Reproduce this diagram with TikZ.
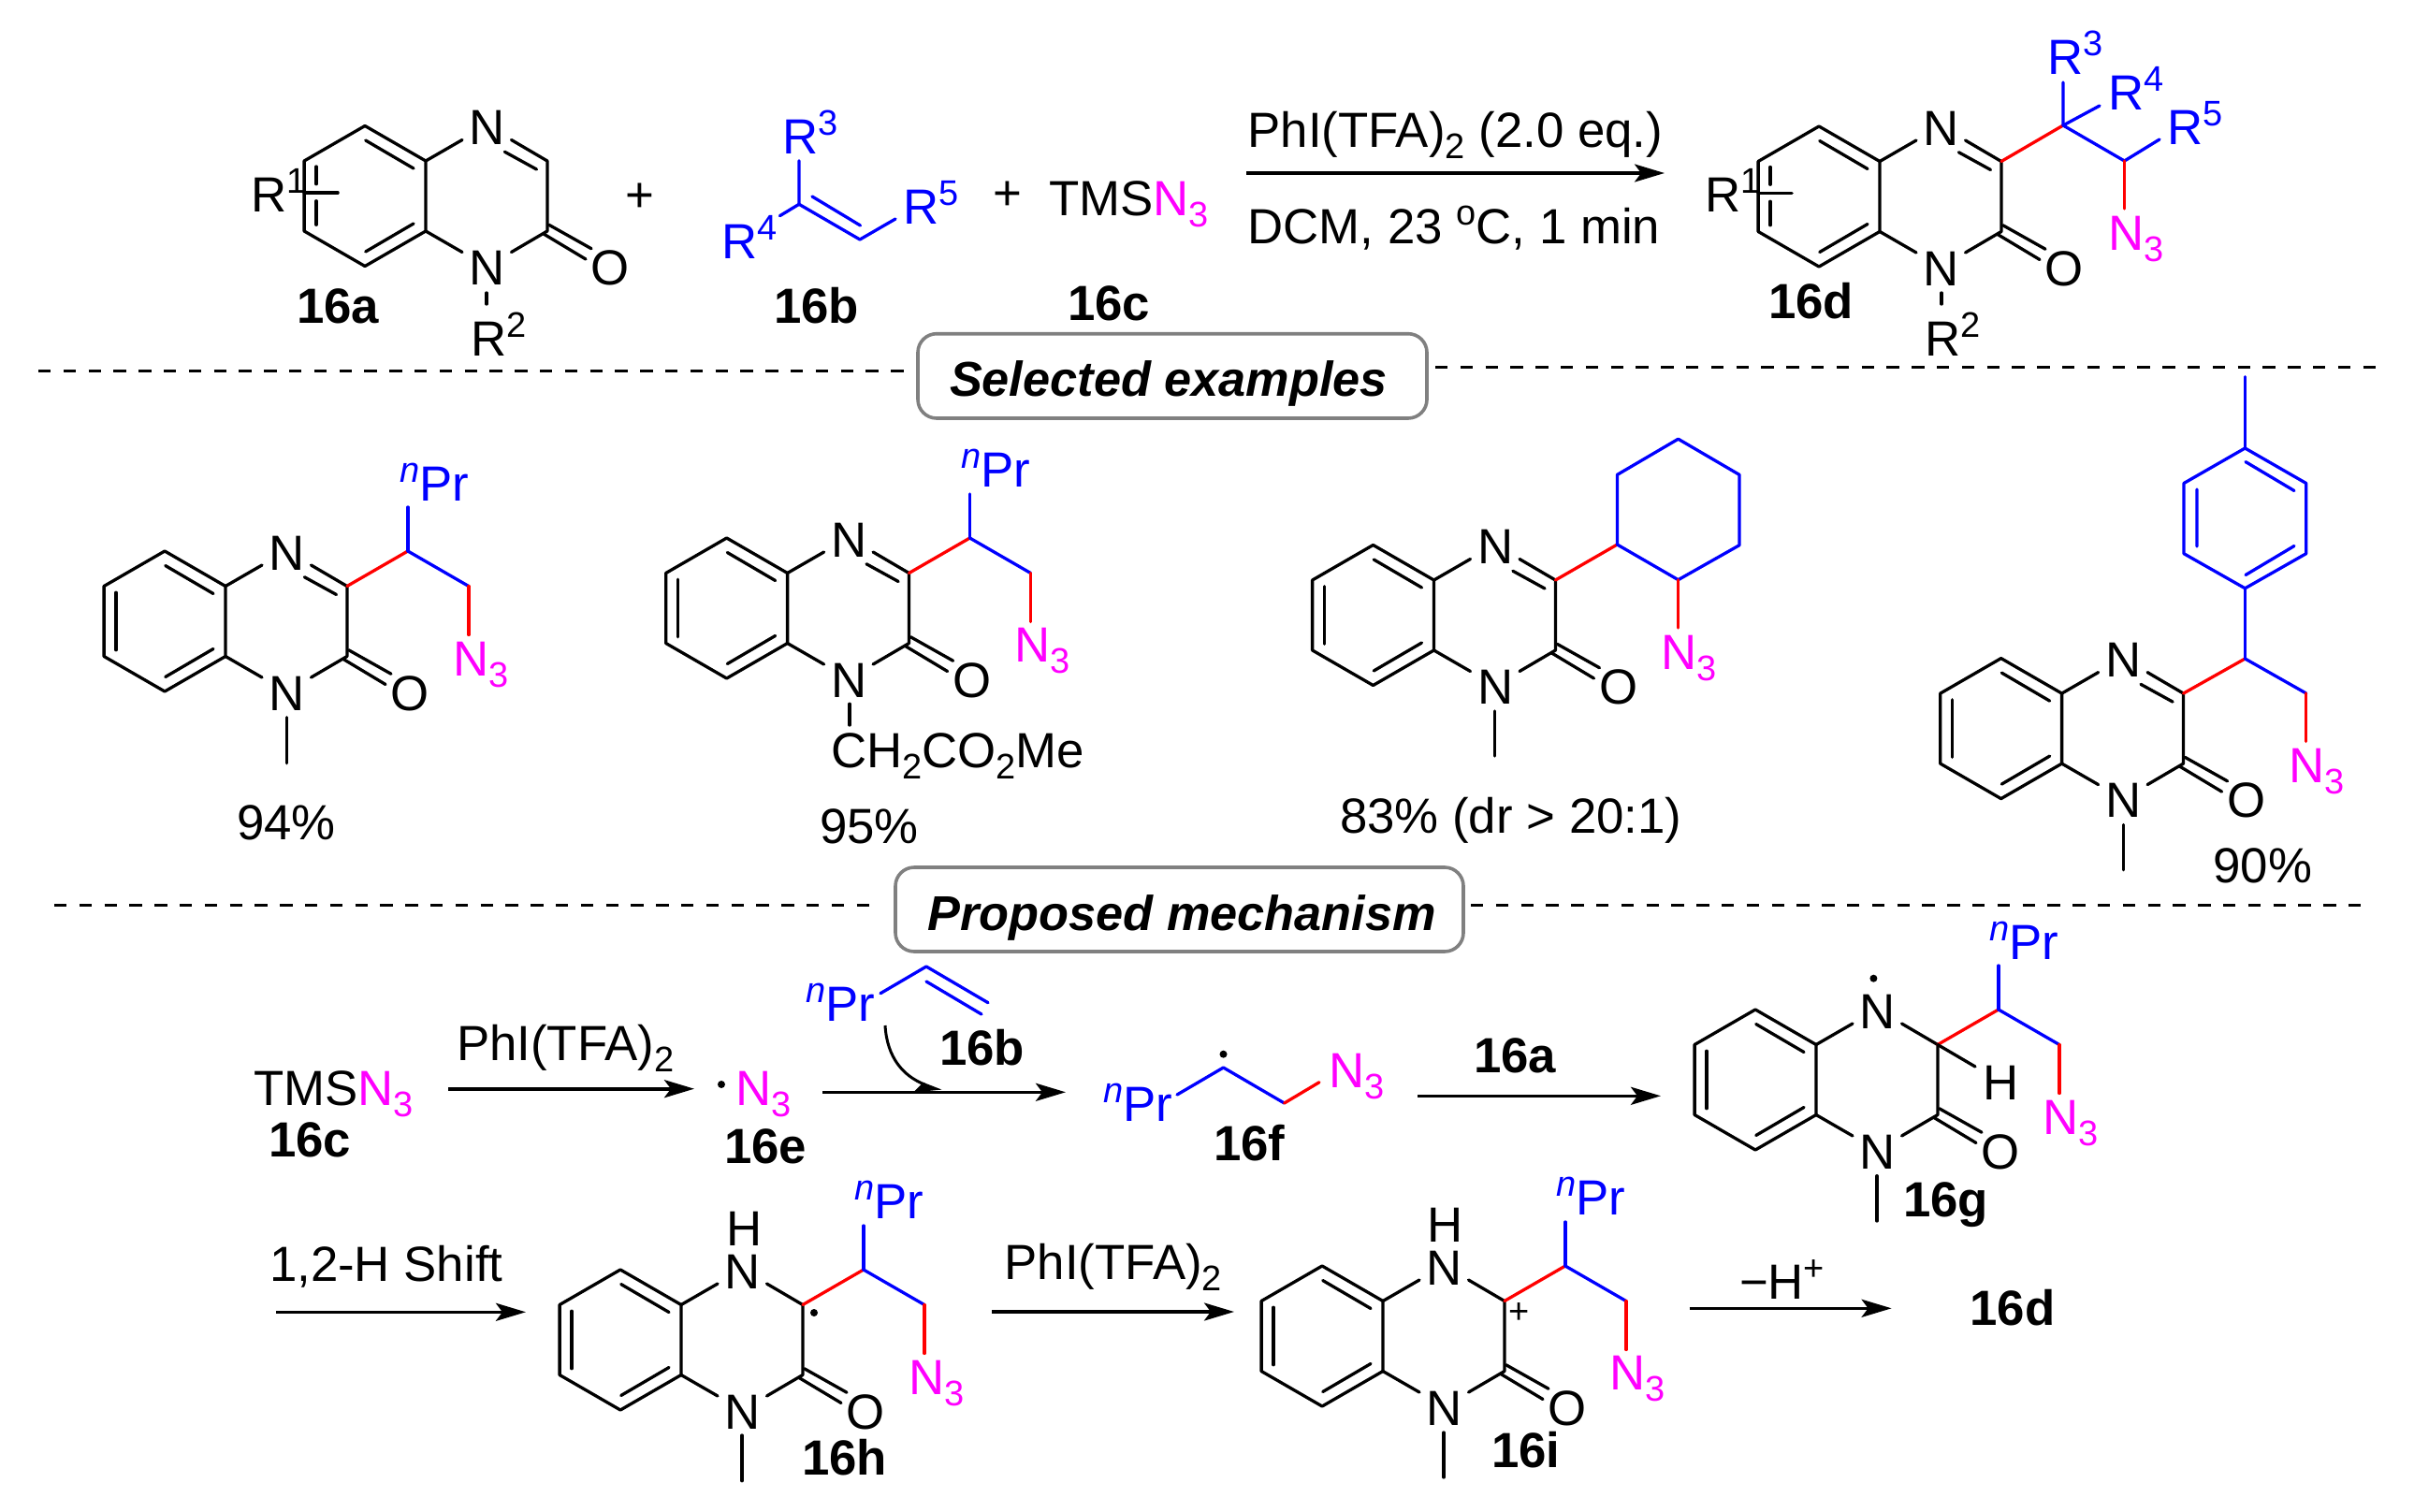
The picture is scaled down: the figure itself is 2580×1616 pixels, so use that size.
\documentclass[tikz,border=0pt]{standalone}
\usepackage{fontspec}
\setmainfont{Liberation Sans}
\usetikzlibrary{arrows.meta}
\definecolor{chemblue}{RGB}{0,0,255}
\definecolor{chemred}{RGB}{255,0,0}
\definecolor{chemmag}{RGB}{255,0,255}
\definecolor{boxgray}{RGB}{128,128,128}
\newcommand\Sp[1]{\raisebox{20pt}{\fontsize{38}{40}\selectfont #1}}
\newcommand\Sb[1]{\raisebox{-12pt}{\fontsize{38}{40}\selectfont #1}}
\newcommand\NT{\textcolor{chemmag}{N\Sb{3}}}
\newcommand\NPr{\textcolor{chemblue}{\Sp{\itshape n}Pr}}
\tikzset{
  bond/.style={line width=3.3pt,black,line cap=round,line join=round},
  blueb/.style={bond,chemblue},
  redb/.style={bond,chemred},
  arr/.style={line width=3.6pt,-{Stealth[length=32pt,width=19pt,inset=7pt]}},
  lbl/.style={font=\fontsize{52.8}{60}\selectfont,inner sep=0pt,outer sep=0pt,anchor=base west,xshift=-3pt},
  cmpd/.style={lbl,font=\fontsize{52.8}{60}\selectfont\bfseries},
  atom/.style={font=\fontsize{52.8}{60}\selectfont,inner sep=0pt,outer sep=0pt,anchor=center,yshift=-2pt,xshift=1pt},
  title/.style={lbl,font=\fontsize{52.3}{60}\selectfont\bfseries\itshape},
  panel/.style={draw=boxgray,line width=3.6pt,rounded corners=20pt,fill=white},
  sep/.style={line width=3pt,dash pattern=on 13.4pt off 13.4pt},
  dot/.style={circle,fill=black,inner sep=0pt,minimum size=8pt},
}
% left inner bond of the benzene ring
\newcommand\QLeft{\draw[bond] (-1.559,-.41)--(-1.559,.41);}
\newcommand\QLeftR{\draw[bond] (-1.559,-.42)--(-1.559,-.17) (-1.559,.07)--(-1.559,.41);
  \draw[bond] (-1.732,-.047)--(-1.252,-.047);}
% quinoxalinone skeleton: #2 prefix, (#3,#4) centre of fused bond
\newcommand\Quin[4][\QLeft]{%
\begin{scope}[shift={(#3,#4)},x=75pt,y=-75pt]
  \draw[bond] (0,-.5)--(-.866,-1)--(-1.732,-.5)--(-1.732,.5)--(-.866,1)--(0,.5)--cycle;
  \draw[bond] (-.857,-.793)--(-.173,-.393) (-.857,.793)--(-.173,.393);
  #1
  \draw[bond] (0,-.5)--(.52,-.8) (0,.5)--(.52,.8);
  \draw[bond] (1.22,-.8)--(1.732,-.5)--(1.732,.5)--(1.22,.8);
  \draw[bond] (1.755,.41)--(2.36,.75) (1.68,.54)--(2.28,.9);
  \coordinate (#2c3) at (1.732,-.5);
  \node[atom] (#2Nt) at (.866,-1) {N};
  \node[atom] (#2Nb) at (.866,1) {N};
  \node[atom] (#2O) at (2.62,1) {O};
\end{scope}}
% C=N second line
\newcommand\Imine[2]{\begin{scope}[shift={(#1,#2)},x=75pt,y=-75pt]
  \draw[bond] (1.125,-.63)--(1.58,-.38);\end{scope}}
% side chain: red bond, blue fork, red bond to azide
\newcommand\Chain[1]{%
  \draw[redb] (#1c3) -- ++(65,-37.5) coordinate (#1Ca);
  \draw[blueb] (#1Ca) -- ++(65,37.5) coordinate (#1Cb);
  \draw[blueb] (#1Ca) -- ++(0,-47);
  \draw[redb] (#1Cb) -- ++(0,52);}
\begin{document}
\begin{tikzpicture}[x=1pt,y=-1pt]
\path[use as bounding box,fill=white] (0,0) rectangle (2580,1616);

% ---------- top equation
\Quin[\QLeftR]{a}{455}{209.5}\Imine{455}{209.5}
\node[lbl] (aR1) at (271,226.7) {R\Sp{1}};
\draw[bond] (520,313)--(520,325);
\node[lbl] (aR2) at (506,380) {R\Sp{2}};
\node[cmpd] (l16a) at (320,345.5) {16a};
\node[lbl] (plus1) at (671,226) {+};

\draw[blueb] (854,171.7)--(854,218.3)--(919,256);
\draw[blueb] (868,210)--(919.5,241);
\draw[blueb] (854,218.3)--(833.4,230.7);
\draw[blueb] (919,256)--(957,234);
\node[lbl,text=chemblue] (bR3) at (839,164.3) {R\Sp{3}};
\node[lbl,text=chemblue] (bR4) at (774,276.7) {R\Sp{4}};
\node[lbl,text=chemblue] (bR5) at (968,239.3) {R\Sp{5}};
\node[cmpd] (l16b) at (830,345.5) {16b};
\node[lbl] (plus2) at (1064,225) {+};
\node[lbl] (tms1) at (1124,230) {TMS\NT};
\node[cmpd] (l16c) at (1144,342) {16c};

\coordinate (a0s) at (1332,185); \coordinate (a0e) at (1779,185);
\draw[arr] (a0s)--(a0e);
\node[lbl] (r0a) at (1336.5,157.3) {PhI(TFA)\Sb{2} (2.0 eq.)};
\node[lbl] (r0b) at (1336.5,260) {DCM, 23 \Sp{o}C, 1 min};

\Quin[\QLeftR]{d}{2009}{210}\Imine{2009}{210}
\node[lbl] (dR1) at (1825,226.7) {R\Sp{1}};
\draw[bond] (2075,313)--(2075,325);
\node[lbl] (dR2) at (2060,380) {R\Sp{2}};
\node[cmpd] (l16d) at (1893,340) {16d};
\draw[redb] (dc3)--(2205,134);
\draw[blueb] (2205,88)--(2205,134)--(2270.5,172)--(2308,149);
\draw[blueb] (2205,134)--(2244,113);
\draw[redb] (2270.5,172)--(2270.5,223);
\node[lbl,text=chemblue] (dR3) at (2191,80) {R\Sp{3}};
\node[lbl,text=chemblue] (dR4) at (2256,118) {R\Sp{4}};
\node[lbl,text=chemblue] (dR5) at (2319,155) {R\Sp{5}};
\node[lbl] (dN3) at (2256,267) {\NT};

% ---------- separators and panels
\coordinate (s1a) at (41,396); \coordinate (s1b) at (969,396);
\coordinate (s2a) at (1534,392); \coordinate (s2b) at (2547,392);
\coordinate (s3a) at (58,967); \coordinate (s3b) at (940,967);
\coordinate (s4a) at (1572,967); \coordinate (s4b) at (2525,967);
\draw[sep] (s1a)--(s1b); \draw[sep] (s2a)--(s2b);
\draw[sep] (s3a)--(s3b); \draw[sep] (s4a)--(s4b);
\draw[panel] (981,356.7) rectangle (1525,447);
\node[title] (t1) at (1018,423.5) {Selected examples};
\draw[panel] (957,927) rectangle (1564,1017);
\node[title] (t2) at (994.6,994.5) {Proposed mechanism};

% ---------- example 1
\Quin{e}{241}{664}\Imine{241}{664}\Chain{e}
\draw[bond] (306.5,766.7)--(306.5,815.7);
\node[lbl] (ePr) at (430,535.7) {\NPr};
\node[lbl] (eN3) at (487,722.7) {\NT};
\node[lbl] (ey) at (256,897) {94\%};

% ---------- example 2
\Quin{f}{841.6}{650}\Imine{841.6}{650}\Chain{f}
\draw[bond] (908,752.3)--(908,775);
\node[lbl] (fPr) at (1030,520.7) {\NPr};
\node[lbl] (fN3) at (1087,707.3) {\NT};
\node[lbl] (fsub) at (891,820) {CH\Sb{2}CO\Sb{2}Me};
\node[lbl] (fy) at (879,901.7) {95\%};

% ---------- example 3
\Quin{g}{1532.5}{657.5}\Imine{1532.5}{657.5}
\draw[redb] (gc3)--(1728.4,582);
\draw[blueb] (1728.4,582)--(1793.6,619.7)--(1859,582.7)--(1859,507.4)--(1793.6,469.2)--(1728.4,507.4)--cycle;
\draw[redb] (1793.6,619.7)--(1793.6,671);
\draw[bond] (1597.8,760)--(1597.8,808);
\node[lbl] (gN3) at (1778,715) {\NT};
\node[lbl] (gy) at (1435,890) {83\% (dr > 20:1)};

% ---------- example 4
\Quin{h}{2203.6}{778.6}\Imine{2203.6}{778.6}
\draw[redb] (hc3)--(2399.4,704);
\draw[blueb] (2399.4,704)--(2464.7,741);
\draw[redb] (2464.7,741)--(2464.7,792.4);
\draw[blueb] (2399.4,704)--(2399.4,628.8);
\draw[blueb] (2399.4,628.8)--(2464.7,591.7)--(2464.7,516.5)--(2399.4,479)--(2334,516.5)--(2334,591.7)--cycle;
\draw[blueb] (2399.4,479)--(2399.4,402.7);
\draw[blueb] (2400,493.6)--(2452,524.5) (2400,614.5)--(2452,583.5) (2348,523)--(2348,584);
\draw[bond] (2269.6,881.5)--(2269.6,929.8);
\node[lbl] (hN3) at (2449.3,836.4) {\NT};
\node[lbl] (hy) at (2368.6,943.6) {90\%};

% ---------- mechanism row 1
\node[lbl] (m1) at (274,1181.7) {TMS\NT};
\node[cmpd] (m1c) at (290,1236) {16c};
\coordinate (a1s) at (479,1163.7); \coordinate (a1e) at (742,1163.7);
\draw[arr] (a1s)--(a1e);
\node[lbl] (a1t) at (491,1133) {PhI(TFA)\Sb{2}};
\node[dot] (d16e) at (771,1159) {};
\node[lbl] (m2) at (789,1181) {\NT};
\node[cmpd] (m2c) at (777,1243) {16e};
\coordinate (a2s) at (879,1167.3); \coordinate (a2e) at (1139,1167.3);
\draw[arr] (a2s)--(a2e);
\node[lbl] (mPr) at (864,1091.7) {\NPr};
\draw[blueb] (941,1061.7)--(990,1033)--(1056,1071.7);
\draw[blueb] (990,1049)--(1049,1084);
\node[cmpd] (mb) at (1007,1138) {16b};
\coordinate (c1s) at (946,1096); \coordinate (c1e) at (1006,1166);
\draw[line width=3pt,-{Stealth[length=24pt,width=24pt,inset=5pt,harpoon,swap]}] (c1s) .. controls (948,1130) and (965,1150) .. (c1e);

\node[lbl] (fPr2) at (1182,1198) {\NPr};
\draw[blueb] (1258,1170)--(1307.5,1141)--(1372.6,1179);
\draw[redb] (1372.6,1179)--(1410,1156.7);
\node[dot] (d16f) at (1307.5,1126.7) {};
\node[lbl] (fN) at (1423,1162.3) {\NT};
\node[cmpd] (m3c) at (1300,1240) {16f};
\coordinate (a3s) at (1515,1171.3); \coordinate (a3e) at (1775,1171.3);
\draw[arr] (a3s)--(a3e);
\node[cmpd] (a3t) at (1578,1146) {16a};

% 16g
\Quin{i}{1941}{1154}\Chain{i}
\draw[bond] (ic3)--(2111,1140);
\node[lbl] (iH) at (2122,1175) {H};
\node[dot] (d16g) at (2002.4,1045.7) {};
\draw[bond] (2006,1256.7)--(2006,1305);
\node[lbl] (iPr) at (2129,1025) {\NPr};
\node[lbl] (iN3) at (2186,1212) {\NT};
\node[cmpd] (ic) at (2037,1300) {16g};

% ---------- mechanism row 2
\coordinate (a4s) at (295,1402.3); \coordinate (a4e) at (562,1402.3);
\draw[arr] (a4s)--(a4e);
\node[lbl] (a4t) at (291,1369.5) {1,2-H Shift};

% 16h
\Quin{j}{728}{1432}\Chain{j}
\node[lbl] (jH) at (779.6,1331) {H};
\node[dot] (d16h) at (870,1403) {};
\draw[bond] (793,1534)--(793,1582.7);
\node[lbl] (jPr) at (916,1302.7) {\NPr};
\node[lbl] (jN3) at (974,1490) {\NT};
\node[cmpd] (jc) at (860,1576) {16h};

\coordinate (a5s) at (1060,1402); \coordinate (a5e) at (1319,1402);
\draw[arr] (a5s)--(a5e);
\node[lbl] (a5t) at (1076.6,1367.7) {PhI(TFA)\Sb{2}};

% 16i
\Quin{k}{1478}{1428}\Chain{k}
\node[lbl] (kH) at (1528,1327) {H};
\node[font=\fontsize{38}{40}\selectfont,inner sep=0pt] (kplus) at (1624,1404) {+};
\draw[bond] (1543,1531)--(1543,1579);
\node[lbl] (kPr) at (1666,1298) {\NPr};
\node[lbl] (kN3) at (1723.6,1485.7) {\NT};
\node[cmpd] (kc) at (1597,1568) {16i};

\coordinate (a6s) at (1805.5,1398.3); \coordinate (a6e) at (2021.6,1398.3);
\draw[arr] (a6s)--(a6e);
\node[lbl] (a6t) at (1862,1388.3) {−H\Sp{+}};
\node[cmpd] (end) at (2108.6,1416) {16d};
\end{tikzpicture}
\end{document}
